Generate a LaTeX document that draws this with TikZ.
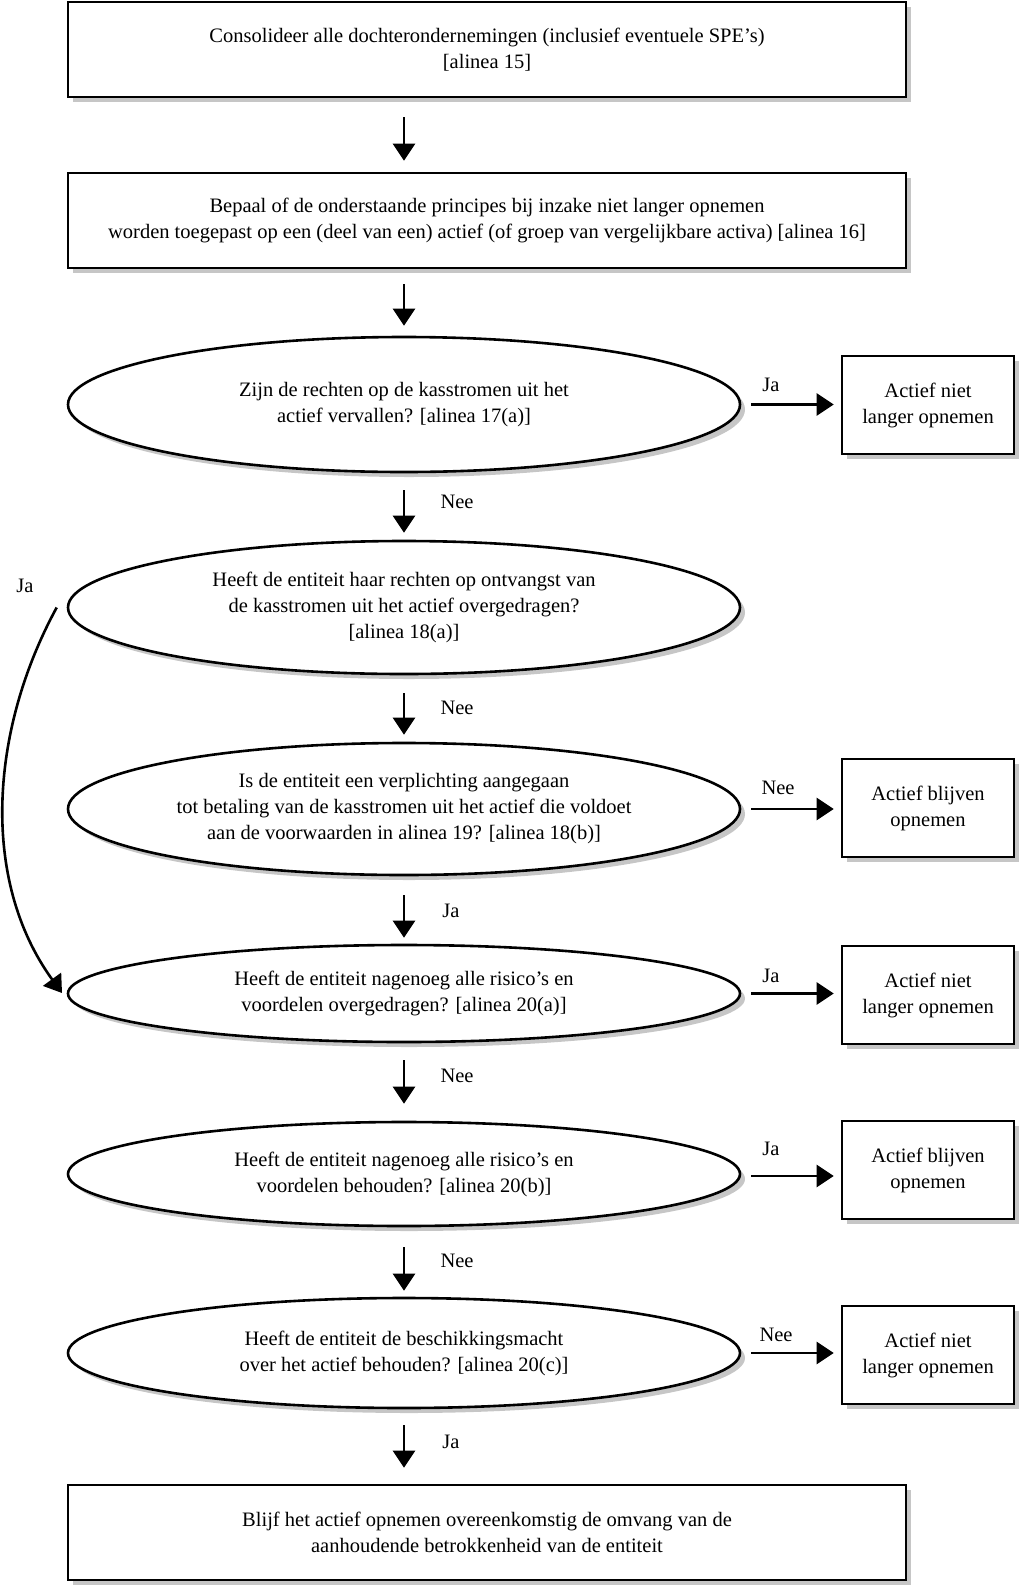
\documentclass[tikz,border=0pt]{standalone}
\usepackage{fontspec}
\setmainfont{Liberation Serif}
\usetikzlibrary{shapes.geometric,shadows,arrows.meta}
\begin{document}
\begin{tikzpicture}[x=1pt,y=-1pt,
  font=\fontsize{20.5}{26}\selectfont,
  shad/.style={drop shadow={shadow xshift=5pt,shadow yshift=-5pt,fill=gray!45,opacity=1}},
  bigbox/.style={draw,line width=2.6pt,fill=white,minimum width=838pt,minimum height=95pt,align=center,shad,inner sep=0pt},
  smallbox/.style={draw,line width=2.6pt,fill=white,minimum width=172pt,minimum height=98pt,align=center,shad,inner sep=0pt},
  dec/.style={ellipse,draw,line width=2.6pt,fill=white,minimum width=672pt,align=center,shad,inner sep=0pt},
  arr/.style={line width=2.6pt,-{Triangle[width=22pt,length=17pt]}},
  lbl/.style={inner sep=0pt}
]
\useasboundingbox (0,0) rectangle (1020,1585);

\node[bigbox] (b1) at (487,49.5) {Consolideer alle dochterondernemingen (inclusief eventuele SPE’s)\\{}[alinea 15]};
\node[bigbox] (b2) at (487,220.5) {Bepaal of de onderstaande principes bij inzake niet langer opnemen\\worden toegepast op een (deel van een) actief (of groep van vergelijkbare activa) [alinea 16]};

\node[dec,minimum height=135pt] (e1) at (404,404.5) {Zijn de rechten op de kasstromen uit het\\actief vervallen? [alinea 17(a)]};
\node[smallbox] (r1) at (928,405) {Actief niet\\langer opnemen};

\node[dec,minimum height=133pt] (e2) at (404,607.5) {Heeft de entiteit haar rechten op ontvangst van\\de kasstromen uit het actief overgedragen?\\{}[alinea 18(a)]};

\node[dec,minimum height=132pt] (e3) at (404,809) {Is de entiteit een verplichting aangegaan\\tot betaling van de kasstromen uit het actief die voldoet\\aan de voorwaarden in alinea 19? [alinea 18(b)]};
\node[smallbox] (r2) at (928,808) {Actief blijven\\opnemen};

\node[dec,minimum height=97pt] (e4) at (404,993.5) {Heeft de entiteit nagenoeg alle risico’s en\\voordelen overgedragen? [alinea 20(a)]};
\node[smallbox] (r3) at (928,995) {Actief niet\\langer opnemen};

\node[dec,minimum height=104pt] (e5) at (404,1174) {Heeft de entiteit nagenoeg alle risico’s en\\voordelen behouden? [alinea 20(b)]};
\node[smallbox] (r4) at (928,1170) {Actief blijven\\opnemen};

\node[dec,minimum height=110pt] (e6) at (404,1353) {Heeft de entiteit de beschikkingsmacht\\over het actief behouden? [alinea 20(c)]};
\node[smallbox] (r5) at (928,1355) {Actief niet\\langer opnemen};

\node[bigbox] (b3) at (487,1532.5) {Blijf het actief opnemen overeenkomstig de omvang van de\\aanhoudende betrokkenheid van de entiteit};

% vertical arrows
\draw[arr,shorten <=19pt,shorten >=11pt] (b1.south -| e1.center) -- (b2.north -| e1.center);
\draw[arr,shorten <=15pt,shorten >=10pt] (b2.south -| e1.center) -- (e1.north);
\draw[arr,shorten <=17pt,shorten >=7pt] (e1.south) -- (e2.north);
\draw[arr,shorten <=18pt,shorten >=7pt] (e2.south) -- (e3.north);
\draw[arr,shorten <=19pt,shorten >=6pt] (e3.south) -- (e4.north);
\draw[arr,shorten <=17pt,shorten >=17pt] (e4.south) -- (e5.north);
\draw[arr,shorten <=20pt,shorten >=6pt] (e5.south) -- (e6.north);
\draw[arr,shorten <=16pt,shorten >=16pt] (e6.south) -- (b3.north -| e6.center);

% horizontal arrows
\draw[arr,shorten <=10pt,shorten >=7pt] (e1.east) -- (e1.east -| r1.west);
\draw[arr,shorten <=10pt,shorten >=7pt] (e3.east) -- (e3.east -| r2.west);
\draw[arr,shorten <=10pt,shorten >=7pt] (e4.east) -- (e4.east -| r3.west);
\draw[arr,shorten <=10pt,shorten >=7pt] ([yshift=-2pt]e5.east) -- ([yshift=-2pt]e5.east -| r4.west);
\draw[arr,shorten <=10pt,shorten >=7pt] (e6.east) -- (e6.east -| r5.west);

% curved Ja arrow
\coordinate (jaend) at (62,993);
\draw[arr] ([xshift=-10pt]e2.west) .. controls (-10,730) and (-20,880) .. (jaend);

% labels
\node[lbl] (l1) at (771,385) {Ja};
\node[lbl] (l2) at (457,502) {Nee};
\node[lbl] (l3) at (25,586) {Ja};
\node[lbl] (l4) at (457,708) {Nee};
\node[lbl] (l5) at (778,788) {Nee};
\node[lbl] (l6) at (451,911) {Ja};
\node[lbl] (l7) at (771,976) {Ja};
\node[lbl] (l8) at (457,1076) {Nee};
\node[lbl] (l9) at (771,1149) {Ja};
\node[lbl] (l10) at (457,1261) {Nee};
\node[lbl] (l11) at (776,1335) {Nee};
\node[lbl] (l12) at (451,1442) {Ja};
\end{tikzpicture}
\end{document}
